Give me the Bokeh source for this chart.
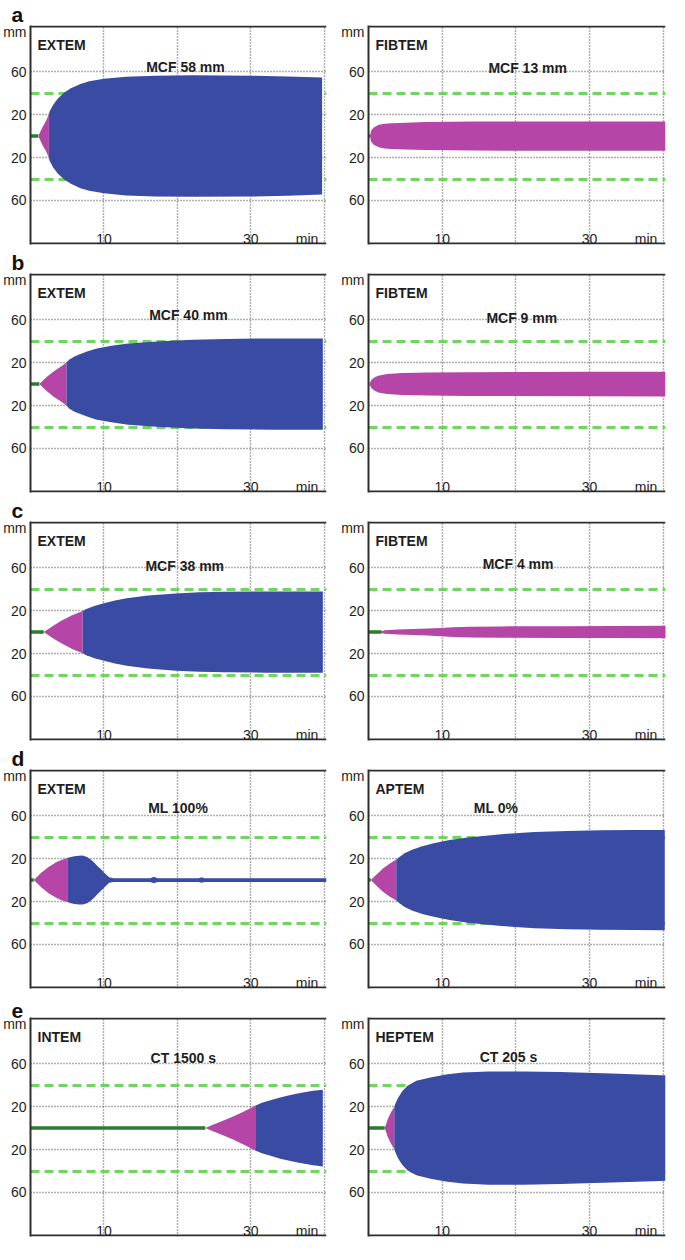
from bokeh.plotting import figure
from bokeh.layouts import column, row
from bokeh.models import Range1d, FixedTicker, Grid
from bokeh.embed import file_html
from bokeh.resources import INLINE
from bokeh.core.properties import value

# ---------------- data (time in min, half-amplitude in mm) ----------------
a_extem_t = [1.07, 1.6, 2.1, 2.5, 2.6, 3.07, 3.73, 4.6, 5.5, 6.8, 8.0, 10.0, 13.0, 17.0, 22.0, 30.0, 35.0, 39.7]
a_extem_amp = [0, 8, 14, 20, 23, 29, 35, 40.5, 44.5, 48.5, 51, 53.3, 55.3, 56.3, 56.6, 56.3, 55.5, 54.5]
a_extem_ct, a_extem_cft = 1.07, 2.5

a_fibtem_t = [0.2, 0.35, 0.7, 1.4, 2.2, 3.1, 5.0, 7.6, 11.0, 14.2, 20.0, 30.0, 40.3]
a_fibtem_amp = [0, 5, 8, 10.5, 11.5, 12, 12.5, 13, 13.3, 13.5, 13.6, 13.6, 13.6]
a_fibtem_ct, a_fibtem_cft = 0.2, None

b_extem_t = [1.2, 2.2, 3.2, 4.2, 4.9, 5.3, 6.0, 6.7, 7.8, 8.9, 11.0, 13.3, 17.7, 22.1, 26.6, 33.0, 39.8]
b_extem_amp = [0, 6.5, 12, 16.5, 20, 23, 25.8, 27.7, 30.5, 32.9, 35.6, 37.8, 40, 41.3, 42.1, 42.5, 42.5]
b_extem_ct, b_extem_cft = 1.2, 4.9

b_fibtem_t = [0.1, 0.4, 0.9, 1.45, 2.5, 4.55, 8.0, 13.4, 20.0, 30.0, 40.3]
b_fibtem_amp = [0, 4, 6.5, 8, 9.3, 10.2, 10.7, 11.1, 11.2, 11.4, 11.5]
b_fibtem_ct, b_fibtem_cft = 0.1, None

c_extem_t = [1.8, 3.0, 4.2, 5.6, 7.1, 7.6, 8.7, 10.0, 11.5, 13.1, 16.0, 19.8, 23.0, 26.4, 32.0, 39.8]
c_extem_amp = [0, 5.5, 10.5, 15.5, 19.7, 21.5, 24.3, 26.8, 29.3, 31.4, 34, 36, 37, 37.5, 37.8, 37.8]
c_extem_ct, c_extem_cft = 1.8, 7.1

c_fibtem_t = [1.8, 2.2, 4.0, 6.0, 8.0, 9.8, 11.5, 13.8, 18.0, 26.2, 33.0, 40.4]
c_fibtem_amp = [0.8, 1.6, 2.3, 2.8, 3.3, 3.8, 4.6, 5.0, 5.3, 5.5, 5.6, 5.8]
c_fibtem_ct, c_fibtem_cft = 1.8, None

d_extem_t = [0.45, 1.5, 2.5, 3.5, 4.3, 5.1, 5.5, 6.0, 6.6, 7.1, 7.7, 8.2, 8.7, 9.1, 9.6, 10.0,
             10.4, 10.7, 11.3, 16.3, 16.8, 17.3, 22.9, 23.3, 23.7, 40.3]
d_extem_amp = [0, 7, 12.5, 16.5, 19, 20.7, 21.5, 22.2, 22.7, 22.8, 21.5, 19.2, 16.2, 13.1, 10, 7.1,
               4.5, 2.6, 1.8, 1.8, 3.0, 1.8, 1.8, 2.6, 1.8, 1.8]
d_extem_ct, d_extem_cft = 0.45, 5.1

d_aptem_t = [0.3, 1.2, 2.0, 2.9, 3.77, 4.2, 4.9, 5.9, 7.3, 9.0, 11.0, 13.5, 18.0, 22.5, 27.0, 31.5, 36.0, 40.2]
d_aptem_amp = [0, 6, 11, 15.5, 19.1, 21.5, 25, 28.3, 31.5, 34.5, 37.3, 39.7, 42.8, 44.8, 45.8, 46.3, 46.6, 46.7]
d_aptem_ct, d_aptem_cft = 0.3, 3.77

e_intem_t = [23.8, 25.0, 26.2, 27.5, 29.0, 30.6, 31.5, 32.9, 34.0, 35.1, 36.2, 37.3, 38.5, 39.8]
e_intem_amp = [0, 3.5, 6.8, 10.5, 15.3, 20.8, 23.5, 26.3, 28.5, 30.3, 31.9, 33.3, 34.7, 35.8]
e_intem_ct, e_intem_cft = 23.8, 30.6

e_heptem_t = [2.2, 2.6, 3.0, 3.5, 3.7, 4.0, 4.6, 5.3, 6.5, 8.4, 10.5, 12.8, 16.3, 21.0, 26.0, 33.0, 39.7, 40.3]
e_heptem_amp = [0, 8, 14, 19.8, 23.5, 28, 34.5, 39.5, 44, 47.1, 49.8, 51.7, 52.8, 52.8, 52.2, 50.8, 49.2, 49.1]
e_heptem_ct, e_heptem_cft = 2.2, 3.5

assays = ["EXTEM", "FIBTEM", "EXTEM", "FIBTEM", "EXTEM", "FIBTEM", "EXTEM", "APTEM", "INTEM", "HEPTEM"]
results = ["MCF 58 mm", "MCF 13 mm", "MCF 40 mm", "MCF 9 mm", "MCF 38 mm", "MCF 4 mm",
           "ML 100%", "ML 0%", "CT 1500 s", "CT 205 s"]
panel_letters = ["a", "b", "c", "d", "e"]

y_tick_values = [-60, -20, 20, 60]
y_tick_labels = ["60", "20", "20", "60"]
x_grid_values = [10, 20, 30, 40]
x_tick_values = [10, 30]
reference_lines = [-40, 40]

curves = [
    (a_extem_t, a_extem_amp, a_extem_ct, a_extem_cft),
    (a_fibtem_t, a_fibtem_amp, a_fibtem_ct, a_fibtem_cft),
    (b_extem_t, b_extem_amp, b_extem_ct, b_extem_cft),
    (b_fibtem_t, b_fibtem_amp, b_fibtem_ct, b_fibtem_cft),
    (c_extem_t, c_extem_amp, c_extem_ct, c_extem_cft),
    (c_fibtem_t, c_fibtem_amp, c_fibtem_ct, c_fibtem_cft),
    (d_extem_t, d_extem_amp, d_extem_ct, d_extem_cft),
    (d_aptem_t, d_aptem_amp, d_aptem_ct, d_aptem_cft),
    (e_intem_t, e_intem_amp, e_intem_ct, e_intem_cft),
    (e_heptem_t, e_heptem_amp, e_heptem_ct, e_heptem_cft),
]

# ---------------- layout / style ----------------
result_x = [21.1, 21.6, 21.5, 20.8, 21.0, 20.3, 20.1, 17.3, 20.8, 19.0]
result_y = [64, 63, 64, 62, 62, 63, 67, 67, 65, 66]

BLUE = "#3a4ba3"
MAGENTA = "#b546a8"
GREEN_DASH = "#5fd24c"
GREEN_BASE = "#2b7d2e"
GRID_C = "#5f5f5f"
BORDER = "#2e2e2e"
TXT = "#1e1e1e"
FONT = "Liberation Sans"

X_MAX = 40.3
Y_LO, Y_HI = -101, 103
X_LABEL_Y = -96.3


def make_panel(i):
    left = (i % 2 == 0)
    letter = panel_letters[i // 2] if left else " "
    p = figure(width=334, height=248,
               x_range=Range1d(0, X_MAX), y_range=Range1d(Y_LO, Y_HI),
               x_axis_type=None, output_backend="svg", toolbar_location=None,
               min_border_left=28 if left else 34, min_border_right=8 if left else 3,
               min_border_top=0, min_border_bottom=4, title=letter)
    p.outline_line_color = None
    p.background_fill_color = "white"
    p.border_fill_color = "white"

    p.title.text_font = FONT
    p.title.text_font_style = "bold"
    p.title.text_font_size = "21px"
    p.title.align = "left"
    p.title.offset = -19
    p.title.standoff = 0
    p.title.text_color = "#111111"

    ax = p.yaxis[0]
    ax.ticker = FixedTicker(ticks=y_tick_values + [97])
    overrides = {v: s for v, s in zip(y_tick_values, y_tick_labels)}
    overrides[97] = "mm"
    ax.major_label_overrides = overrides
    ax.major_tick_line_color = None
    ax.minor_tick_line_color = None
    ax.major_tick_out = 0
    ax.major_tick_in = 0
    ax.axis_line_color = BORDER
    ax.axis_line_width = 2
    ax.major_label_standoff = 4
    ax.major_label_text_font = FONT
    ax.major_label_text_font_size = "14px"
    ax.major_label_text_color = TXT

    p.ygrid.ticker = FixedTicker(ticks=y_tick_values)
    p.ygrid.grid_line_color = GRID_C
    p.ygrid.grid_line_dash = "1 2"
    p.ygrid.grid_line_width = 1.4
    xg = Grid(dimension=0, ticker=FixedTicker(ticks=x_grid_values),
              grid_line_color=GRID_C, grid_line_dash="1 2", grid_line_width=1.4)
    p.add_layout(xg)

    # reference lines
    p.hspan(y=reference_lines, line_color=GREEN_DASH, line_width=3, line_dash="9 5", line_alpha=0.9)

    t, amp, ct, cft = curves[i]
    # baseline before clot formation
    p.line(x=[0, ct], y=[0, 0], line_color=GREEN_BASE, line_width=3.5)

    if cft is None:
        p.varea(x=t, y1=[-a for a in amp], y2=amp, fill_color=MAGENTA)
    else:
        tm = [tt for tt in t if tt <= cft]
        am = [a for tt, a in zip(t, amp) if tt <= cft]
        tb = [tt for tt in t if tt >= cft]
        ab = [a for tt, a in zip(t, amp) if tt >= cft]
        p.varea(x=tm, y1=[-a for a in am], y2=am, fill_color=MAGENTA)
        p.varea(x=tb, y1=[-a for a in ab], y2=ab, fill_color=BLUE)

    # frame top / bottom borders
    p.hspan(y=[Y_HI - 1, Y_LO + 1], line_color=BORDER, line_width=2)

    # texts
    p.text(x=[0], y=[84.5], text=[assays[i]], x_offset=7,
           text_font=value(FONT), text_font_style="bold", text_font_size="14px",
           text_align="left", text_baseline="alphabetic", text_color=TXT)
    p.text(x=[result_x[i]], y=[result_y[i]], text=[results[i]],
           text_font=value(FONT), text_font_style="bold", text_font_size="14px",
           text_align="center", text_baseline="alphabetic", text_color=TXT)
    p.text(x=x_tick_values, y=[X_LABEL_Y] * len(x_tick_values), text=[str(v) for v in x_tick_values],
           text_font=value(FONT), text_font_size="14px",
           text_align="center", text_baseline="alphabetic", text_color=TXT)
    p.text(x=[40], y=[X_LABEL_Y], text=["min"], x_offset=-6,
           text_font=value(FONT), text_font_size="14px",
           text_align="right", text_baseline="alphabetic", text_color=TXT)
    return p


figs = [make_panel(i) for i in range(10)]
layout = column(*[row(figs[2 * r], figs[2 * r + 1]) for r in range(5)])

open("out.html", "w").write(file_html(layout, INLINE))
